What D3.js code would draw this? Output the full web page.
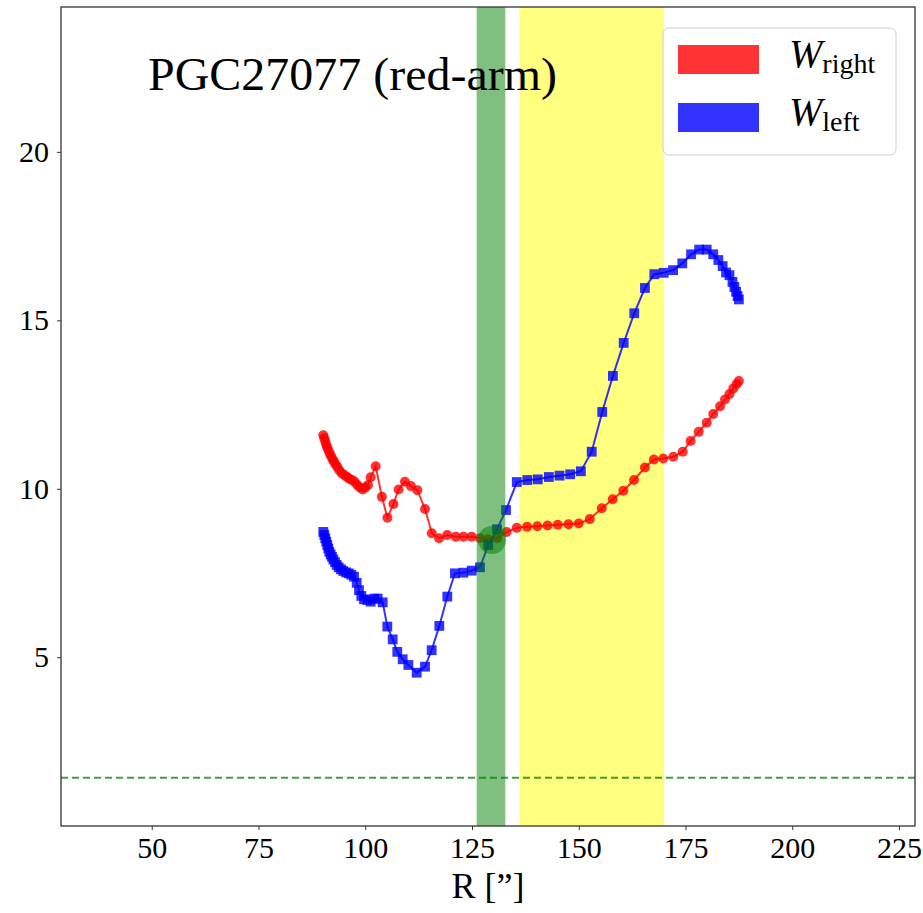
<!DOCTYPE html>
<html><head><meta charset="utf-8">
<script src="https://cdn.jsdelivr.net/npm/d3@7"></script>
<style>body{margin:0;background:#fff}svg{display:block}text{font-family:"Liberation Serif","DejaVu Serif",serif;fill:#000}</style>
</head><body><svg id="c" width="923" height="913"></svg>
<script>
// ---- data ----
const rightR = [90.18,90.41,90.65,90.88,91.12,91.44,91.75,92.06,92.38,92.69,93.08,93.46,93.93,94.49,95.1,95.66,96.27,96.9,97.53,98.14,98.77,99.4,100.0,100.65,101.28,102.45,103.9,105.2,106.6,107.8,109.3,110.7,112.2,114.0,115.6,117.3,119.2,121.2,123.0,124.9,126.9,128.8,130.9,133.1,135.5,137.9,140.3,142.7,145.1,147.6,150.0,152.6,155.4,157.95,160.44,162.95,165.5,167.6,169.8,172.15,174.35,176.2,178.1,179.97,181.5,183.1,184.25,185.3,186.2,187.0,187.5];
const rightW = [11.59,11.50,11.40,11.30,11.22,11.13,11.03,10.95,10.87,10.80,10.72,10.65,10.55,10.46,10.41,10.36,10.30,10.26,10.21,10.11,10.04,9.98,10.04,10.11,10.34,10.67,9.76,9.14,9.55,9.98,10.21,10.08,9.96,9.40,8.68,8.53,8.63,8.58,8.58,8.58,8.53,8.50,8.53,8.72,8.84,8.87,8.89,8.91,8.93,8.95,8.97,9.10,9.42,9.69,9.94,10.26,10.63,10.87,10.90,10.95,11.10,11.42,11.69,11.96,12.22,12.45,12.65,12.81,12.98,13.11,13.20];
const leftR = [90.18,90.41,90.65,90.88,91.12,91.35,91.59,91.91,92.22,92.53,92.92,93.32,93.78,94.32,94.86,95.5,96.13,96.74,97.37,98.0,98.54,99.08,99.71,100.5,101.28,102.1,102.9,104.09,105.17,106.43,107.5,108.77,110.1,112.05,114.0,115.56,117.35,119.22,121.0,122.97,124.93,126.88,128.8,130.86,132.97,135.5,137.95,140.4,143.0,145.5,148.0,150.5,153.04,155.5,158.0,160.53,163.0,165.5,167.7,169.9,172.1,174.25,176.3,178.2,179.97,181.5,182.7,183.7,184.5,185.3,186.0,186.45,186.85,187.2,187.5];
const leftW = [8.72,8.63,8.53,8.43,8.33,8.23,8.13,8.05,7.98,7.90,7.82,7.74,7.67,7.61,7.56,7.52,7.49,7.45,7.39,7.21,6.99,6.82,6.72,6.70,6.65,6.74,6.74,6.63,5.91,5.53,5.16,4.94,4.77,4.54,4.72,5.21,5.93,6.80,7.49,7.51,7.57,7.67,8.33,8.80,9.37,10.20,10.26,10.28,10.35,10.39,10.43,10.52,11.10,12.28,13.35,14.33,15.21,15.96,16.37,16.41,16.49,16.69,16.96,17.10,17.10,16.96,16.79,16.61,16.42,16.34,16.14,15.99,15.85,15.72,15.62];
const xTicks = [50,75,100,125,150,175,200,225];
const yTicks = [5,10,15,20];
const greenBand = [126.1,132.8];
const yellowBand = [136.1,170.0];
const threshold = 1.42;
const crossing = [129.7,8.48];
const titleText = "PGC27077 (red-arm)";
const xLabel = "R [\u201D]";

// ---- layout ----
const L=61,R=915,T=7,B=826;
const x = d3.scaleLinear().domain([28.75,228.75]).range([L,R]);
const y = d3.scaleLinear().domain([0,24.3]).range([825.7,T]);
const svg = d3.select("#c");

// yellow band (under data)
svg.append("rect").attr("x",x(yellowBand[0])).attr("y",T).attr("width",x(yellowBand[1])-x(yellowBand[0])).attr("height",B-T)
  .attr("fill","yellow").attr("fill-opacity",0.5);

// threshold line
svg.append("line").attr("x1",L).attr("x2",R).attr("y1",y(threshold)).attr("y2",y(threshold))
  .attr("stroke","green").attr("stroke-opacity",0.75).attr("stroke-width",2).attr("stroke-dasharray","7,4");

const line = d3.line().x(d=>x(d[0])).y(d=>y(d[1]));
function series(Rs,Ws,color,shape){
  const pts = Rs.map((r,i)=>[r,Ws[i]]);
  svg.append("path").attr("d",line(pts)).attr("fill","none").attr("stroke",color).attr("stroke-opacity",0.8).attr("stroke-width",2);
  const g = svg.append("g").attr("fill",color).attr("fill-opacity",0.8);
  if(shape==="circle"){
    g.selectAll("circle").data(pts).join("circle").attr("cx",d=>x(d[0])).attr("cy",d=>y(d[1])).attr("r",5);
  } else {
    const s=9.8;
    g.selectAll("rect").data(pts).join("rect").attr("x",d=>x(d[0])-s/2).attr("y",d=>y(d[1])-s/2).attr("width",s).attr("height",s);
  }
}
series(rightR,rightW,"red","circle");
series(leftR,leftW,"blue","square");

// green band (over data)
svg.append("rect").attr("x",x(greenBand[0])).attr("y",T).attr("width",x(greenBand[1])-x(greenBand[0])).attr("height",B-T)
  .attr("fill","green").attr("fill-opacity",0.5);
// crossing marker
svg.append("circle").attr("cx",x(crossing[0])).attr("cy",y(crossing[1])).attr("r",14).attr("fill","green").attr("fill-opacity",0.5);

// frame
svg.append("rect").attr("x",L).attr("y",T).attr("width",R-L).attr("height",B-T).attr("fill","none").attr("stroke","#333").attr("stroke-width",1.3);

// axes
const xAxis = d3.axisBottom(x).tickValues(xTicks).tickSize(4).tickPadding(6).tickFormat(d3.format("d"));
const gx = svg.append("g").attr("transform",`translate(0,${B})`).call(xAxis);
gx.select(".domain").remove();
gx.selectAll("text").attr("font-size",30).attr("font-family","Liberation Serif").attr("dy","0.72em");
const yAxis = d3.axisLeft(y).tickValues(yTicks).tickSize(4).tickPadding(8).tickFormat(d3.format("d"));
const gy = svg.append("g").attr("transform",`translate(${L},0)`).call(yAxis);
gy.select(".domain").remove();
gy.selectAll("text").attr("font-size",30).attr("font-family","Liberation Serif");
svg.selectAll(".tick line").attr("stroke","#333");

// x label
svg.append("text").attr("x",488).attr("y",898).attr("text-anchor","middle").attr("font-size",36).text(xLabel);

// title
svg.append("text").attr("x",148).attr("y",90).attr("font-size",47).attr("textLength",409).attr("lengthAdjust","spacingAndGlyphs").text(titleText);

// legend
const lg = svg.append("g");
lg.append("rect").attr("x",663).attr("y",28).attr("width",233).attr("height",127).attr("rx",6)
  .attr("fill","white").attr("fill-opacity",0.8).attr("stroke","#ccc").attr("stroke-width",1);
const legendItems = [{c:"red",sub:"right",y:45},{c:"blue",sub:"left",y:103}];
legendItems.forEach(it=>{
  lg.append("rect").attr("x",678).attr("y",it.y).attr("width",81).attr("height",29).attr("fill",it.c).attr("fill-opacity",0.8);
  const t = lg.append("text").attr("x",789).attr("y",it.y+22).attr("font-size",40);
  t.append("tspan").attr("font-style","italic").text("W");
  t.append("tspan").attr("font-size",28).attr("dy",6).text(it.sub);
});
</script></body></html>
